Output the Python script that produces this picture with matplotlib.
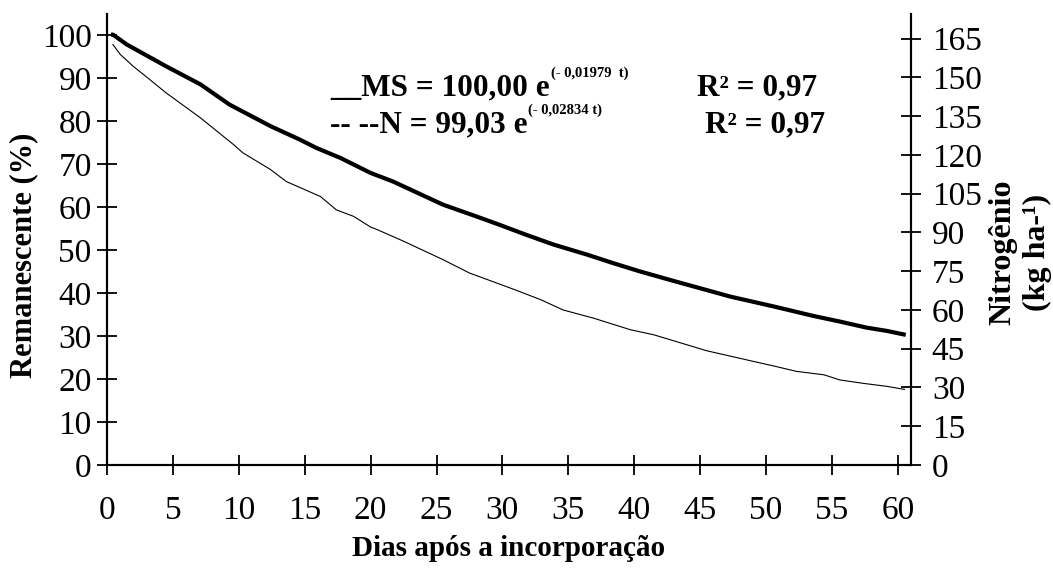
import matplotlib
matplotlib.use("Agg")
import matplotlib.pyplot as plt

plt.rcParams['font.family'] = ['Liberation Serif', 'DejaVu Serif']

# MS remaining (%)
ms_days = [0.3, 0.45, 1.5, 4.5, 7.1, 9.3, 12.4, 14.6, 15.9, 17.7, 20.0, 21.7, 25.5, 28.0,
           29.8, 31.8, 33.9, 36.4, 38.4, 40.4, 42.7, 47.3, 50.6, 53.6, 55.6, 57.6, 59.2, 60.6]
ms_vals = [100.2, 100.2, 97.9, 92.8, 88.6, 83.9, 78.9, 75.8, 73.8, 71.5, 68.0, 66.0, 60.6, 57.9,
           55.9, 53.6, 51.3, 49.0, 47.0, 45.1, 43.1, 39.2, 36.9, 34.7, 33.4, 32.0, 31.2, 30.3]

# N remaining (%)
n_days = [0.45, 1.0, 2.0, 3.3, 4.5, 7.1, 9.6, 10.3, 12.4, 13.6, 16.2, 17.4, 18.7, 20.0, 20.5,
          22.5, 25.5, 27.5, 30.6, 32.9, 34.6, 36.9, 39.7, 41.5, 45.5, 48.5, 50.8, 52.3, 54.4,
          55.6, 57.4, 59.2, 60.5]
n_vals = [97.9, 95.6, 92.8, 89.6, 86.6, 80.8, 74.6, 72.7, 68.8, 66.0, 62.5, 59.4, 57.9, 55.4, 54.8,
          52.1, 47.8, 44.7, 41.2, 38.5, 36.1, 34.2, 31.5, 30.3, 26.6, 24.5, 22.9, 21.8, 21.0,
          19.8, 19.0, 18.3, 17.6]

x_ticks = list(range(0, 61, 5))
left_ticks = list(range(0, 101, 10))
right_ticks = list(range(0, 166, 15))

W, H = 1053, 570
fig = plt.figure(figsize=(W / 100, H / 100), dpi=100)
ax = fig.add_axes([107 / W, 1 - 465 / H, (911 - 107) / W, (465 - 14) / H])
ax2 = ax.twinx()

ax.plot(ms_days, ms_vals, color='black', lw=3.0, solid_capstyle='butt', clip_on=False)
ax.plot(n_days, n_vals, color='black', lw=0.8, clip_on=False)

ax.set_xlim(0, 61)
ax.set_ylim(0, 105)
ax2.set_ylim(0, 174.5)

for a in (ax, ax2):
    a.spines['top'].set_visible(False)
    for s in ('left', 'right', 'bottom'):
        a.spines[s].set_linewidth(1.5)

ax.set_xticks(x_ticks)
ax.set_yticks(left_ticks)
ax2.set_yticks(right_ticks)

tick_fs = 24
ax.tick_params(axis='x', direction='inout', length=14, width=1.3, pad=15, labelsize=tick_fs)
ax.tick_params(axis='y', direction='inout', length=14, width=1.3, pad=4, labelsize=tick_fs)
ax2.tick_params(axis='y', direction='inout', length=14, width=1.3, pad=8, labelsize=tick_fs)

fig.text(509 / W, 1 - 548 / H, 'Dias após a incorporação', ha='center', va='center',
         fontweight='bold', fontsize=21)
fig.text(24 / W, 1 - 255 / H, 'Remanescente (%)', rotation=90, ha='center', va='center',
         fontweight='bold', fontsize=22)
fig.text(1003 / W, 1 - 252 / H, 'Nitrogênio', rotation=90, ha='center', va='center',
         fontweight='bold', fontsize=23)
fig.text(1037 / W, 1 - 252 / H, '(kg ha-¹)', rotation=90, ha='center', va='center',
         fontweight='bold', fontsize=23)

# equations: main part, then a small raised exponent placed right after it
eq_fs, sup_fs = 22.5, 10.5
renderer = fig.canvas.get_renderer()
equations = [('__MS = 100,00 e', '(- 0,01979  t)', 95, 697),
             ('-- --N = 99,03 e', '(- 0,02834 t)', 132, 705)]
for main, sup, base_y, r2_x in equations:
    t = fig.text(330 / W, 1 - base_y / H, main, ha='left', va='baseline',
                 fontweight='bold', fontsize=eq_fs)
    bb = t.get_window_extent(renderer)
    fig.text((bb.x1 + 1) / W, 1 - (base_y - 18) / H, sup, ha='left', va='baseline',
             fontweight='bold', fontsize=sup_fs)
    fig.text(r2_x / W, 1 - base_y / H, 'R² = 0,97', ha='left', va='baseline',
             fontweight='bold', fontsize=eq_fs)

fig.savefig('out.png', dpi=100, facecolor='white')
